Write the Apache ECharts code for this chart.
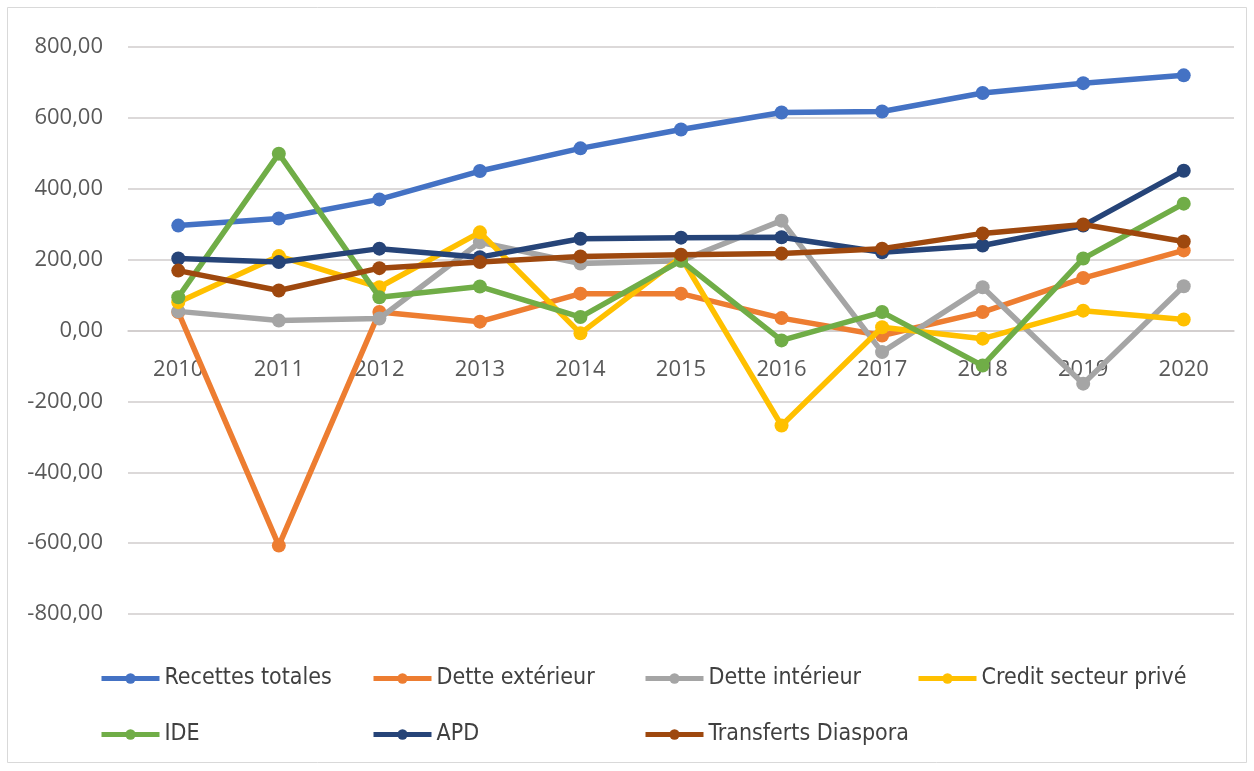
<!DOCTYPE html>
<html><head><meta charset="utf-8">
<script src="https://cdn.jsdelivr.net/npm/echarts@6/dist/echarts.min.js"></script>
<style>html,body{margin:0;padding:0;background:#fff}#c{width:1254px;height:771px}</style>
</head><body><div id="c"></div>
<script>
const years = ['2010','2011','2012','2013','2014','2015','2016','2017','2018','2019','2020'];
const yTicks = [-800,-600,-400,-200,0,200,400,600,800];
const recettesTotales = [296,316,370,450,514,567,615,618,670,698,720];
const detteExterieur = [52,-607,52,25,104,104,35,-14,52,148,226];
const detteInterieur = [54,28,34,249,189,197,310,-61,122,-150,125];
const creditPrive = [80,210,122,277,-8,207,-268,9,-23,56,31];
const ide = [94,499,94,124,38,197,-28,52,-99,203,358];
const apd = [203,193,231,207,259,262,263,221,240,296,451];
const diaspora = [169,113,176,193,209,214,217,231,274,299,251];

const names = ['Recettes totales','Dette extérieur','Dette intérieur','Credit secteur privé','IDE','APD','Transferts Diaspora'];
const colors = ['#4472C4','#ED7D31','#A5A5A5','#FFC000','#70AD47','#264478','#9E480E'];
const datas = [recettesTotales,detteExterieur,detteInterieur,creditPrive,ide,apd,diaspora];
const legendPos = [[99,667],[371,667],[643,667],[916,667],[99,723],[371,723],[643,723]];

const chart = echarts.init(document.getElementById('c'));
const legFont = "'DejaVu Sans Condensed','Open Sans',sans-serif";
const axFont = "'Open Sans',sans-serif";
chart.setOption({
  animation:false,
  backgroundColor:'#fff',
  graphic:[{type:'rect',shape:{x:7.5,y:7.5,width:1239,height:755},style:{fill:'none',stroke:'#d9d9d9',lineWidth:1}}],
  grid:{left:128,right:20,top:47,bottom:157,containLabel:false},
  legend: names.map((n,i)=>({
    data:[n], left:legendPos[i][0], top:legendPos[i][1], padding:0,
    itemWidth:58, itemHeight:13, itemGap:0,
    lineStyle:{width:5},
    textStyle:{color:'#404040',fontSize:23,fontFamily:legFont}
  })),
  xAxis:{type:'category',data:years,boundaryGap:true,offset:-283.5,
    axisLine:{show:true,onZero:false,lineStyle:{color:'#d0cccc',width:1.5}},
    axisTick:{show:false},
    axisLabel:{color:'#595959',fontSize:22,fontFamily:axFont,margin:28},
    splitLine:{show:false}},
  yAxis:{type:'value',min:-800,max:800,interval:200,
    axisLine:{show:false},axisTick:{show:false},
    axisLabel:{color:'#595959',fontSize:22,fontFamily:axFont,margin:25,
      formatter:v=>v.toFixed(2).replace('.',',')},
    splitLine:{lineStyle:{color:'#d0cccc',width:1.5}}},
  series: names.map((n,i)=>({
    name:n,type:'line',data:datas[i],
    symbol:'circle',symbolSize:14,
    lineStyle:{color:colors[i],width:5.5},
    itemStyle:{color:colors[i]},
    z:2+i
  }))
});
</script></body></html>
